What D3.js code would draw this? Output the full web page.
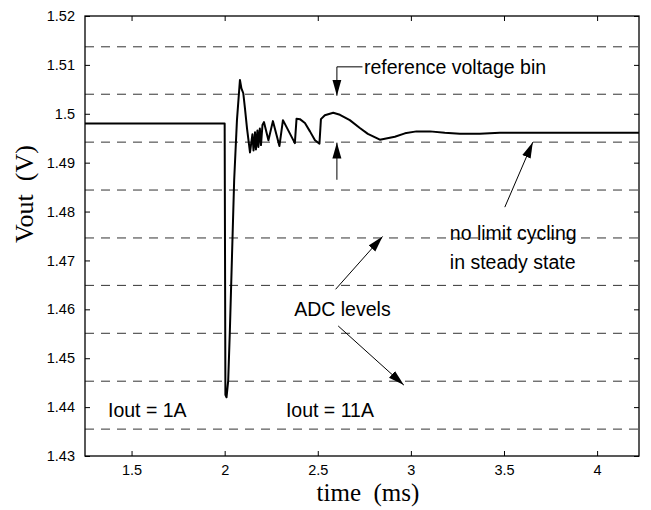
<!DOCTYPE html>
<html>
<head>
<meta charset="utf-8">
<script src="https://cdn.jsdelivr.net/npm/d3@7"></script>
<style>
  body { margin: 0; background: #fff; }
  svg { display: block; }
  .tick text { font-family: "Liberation Sans", Arial, sans-serif; font-size: 14.5px; fill: #000; }
</style>
</head>
<body>
<div id="plot-container"></div>
<script>
// output voltage transient (time in ms, volts)
const timeMs = [1.25, 2.000, 2.004, 2.010, 2.019, 2.028, 2.051, 2.066, 2.082, 2.090, 2.100, 2.109, 2.120, 2.136,
    2.149, 2.155, 2.163, 2.168, 2.176, 2.181, 2.189, 2.195, 2.203, 2.211, 2.235, 2.259, 2.294, 2.313,
    2.377, 2.386, 2.404, 2.431, 2.458, 2.485, 2.509, 2.517, 2.538, 2.583, 2.619, 2.672, 2.726, 2.769,
    2.8335, 2.914, 2.968, 3.030, 3.102, 3.182, 3.263, 3.370, 3.478, 4.225];
const vout = [1.498, 1.498, 1.4425, 1.442, 1.4454, 1.4557, 1.4864, 1.4987, 1.5069, 1.5052, 1.5042, 1.5011, 1.4970, 1.4921,
    1.4958, 1.4925, 1.4962, 1.4927, 1.4966, 1.4932, 1.4970, 1.4936, 1.4977, 1.4983, 1.4946, 1.4985, 1.4934, 1.4987,
    1.4940, 1.4990, 1.4989, 1.4981, 1.4964, 1.4946, 1.4939, 1.4989, 1.4997, 1.5002, 1.4998, 1.4987, 1.4971, 1.4959,
    1.4947, 1.4953, 1.4960, 1.4964, 1.4964, 1.4961, 1.4959, 1.4959, 1.4961, 1.4961];

// ADC quantisation levels
const adcLevels = [1.5137, 1.5040, 1.4942, 1.4844, 1.4746, 1.4649, 1.4551, 1.4453, 1.4355];

const xTicks = [1.5, 2, 2.5, 3, 3.5, 4];
const yTicks = [1.43, 1.44, 1.45, 1.46, 1.47, 1.48, 1.49, 1.5, 1.51, 1.52];
const yTickLabels = ["1.43", "1.44", "1.45", "1.46", "1.47", "1.48", "1.49", "1.5", "1.51", "1.52"];

// annotations in data coordinates
const labels = [
    { text: "reference voltage bin", t: 2.748, v: 1.5096 },
    { text: "no limit cycling", t: 3.209, v: 1.4756 },
    { text: "in steady state", t: 3.209, v: 1.4697 },
    { text: "ADC levels", t: 2.3735, v: 1.4601 },
    { text: "Iout = 1A", t: 1.3735, v: 1.4394 },
    { text: "Iout = 11A", t: 2.329, v: 1.4394 }
];
const arrows = [
    [[2.740, 1.5096], [2.6027, 1.5096], [2.6027, 1.5037]],
    [[2.6027, 1.4865], [2.6027, 1.4941]],
    [[3.5044, 1.4809], [3.6547, 1.4942]],
    [[2.5957, 1.4641], [2.848, 1.4749]],
    [[2.6096, 1.4566], [2.9623, 1.4445]]
];

const margin = { top: 16, right: 12, bottom: 54, left: 85 };
const width = 651 - margin.left - margin.right;
const height = 510 - margin.top - margin.bottom;

const svg = d3.select("#plot-container")
    .append("svg")
    .attr("width", 651)
    .attr("height", 510)
    .append("g")
    .attr("transform", "translate(" + margin.left + "," + margin.top + ")");

const x = d3.scaleLinear().domain([1.25, 4.225]).range([0, width]);
const y = d3.scaleLinear().domain([1.43, 1.52]).range([height, 0]);

// dashed ADC levels
svg.selectAll("line.adc")
    .data(adcLevels)
    .enter()
    .append("line")
    .attr("class", "adc")
    .attr("x1", 0)
    .attr("x2", width)
    .attr("y1", d => y(d))
    .attr("y2", d => y(d))
    .attr("stroke", "#333")
    .attr("stroke-width", 1)
    .attr("stroke-dasharray", "9,7");

// axes with inward ticks on all four sides
const fmtY = d => yTickLabels[yTicks.indexOf(d)];
svg.append("g")
    .attr("transform", "translate(0," + height + ")")
    .call(d3.axisBottom(x).tickValues(xTicks).tickSize(-5).tickPadding(9).tickFormat(d3.format("")));
svg.append("g")
    .call(d3.axisLeft(y).tickValues(yTicks).tickSize(-5).tickPadding(10).tickFormat(fmtY));
svg.append("g")
    .call(d3.axisTop(x).tickValues(xTicks).tickSize(-5).tickFormat(""));
svg.append("g")
    .attr("transform", "translate(" + width + ",0)")
    .call(d3.axisRight(y).tickValues(yTicks).tickSize(-5).tickFormat(""));
svg.selectAll(".domain").remove();
svg.selectAll(".tick line").attr("stroke", "#000").attr("stroke-width", 1);

svg.append("rect")
    .attr("width", width)
    .attr("height", height)
    .attr("fill", "none")
    .attr("stroke", "#000")
    .attr("stroke-width", 1.3);

// signal
const line = d3.line()
    .x((d, i) => x(timeMs[i]))
    .y(d => y(d));

svg.append("path")
    .datum(vout)
    .attr("fill", "none")
    .attr("stroke", "#000")
    .attr("stroke-width", 2)
    .attr("stroke-linejoin", "round")
    .attr("d", line);

// arrows
svg.append("defs").append("marker")
    .attr("id", "head")
    .attr("viewBox", "0 0 16 10")
    .attr("refX", 16)
    .attr("refY", 5)
    .attr("markerWidth", 16)
    .attr("markerHeight", 10)
    .attr("markerUnits", "userSpaceOnUse")
    .attr("orient", "auto")
    .append("path")
    .attr("d", "M0,0.5L16,5L0,9.5Z")
    .attr("fill", "#000");

svg.selectAll("path.arrow")
    .data(arrows)
    .enter()
    .append("path")
    .attr("class", "arrow")
    .attr("fill", "none")
    .attr("stroke", "#000")
    .attr("stroke-width", 1)
    .attr("marker-end", "url(#head)")
    .attr("d", d3.line().x(d => x(d[0])).y(d => y(d[1])));

svg.selectAll("text.note")
    .data(labels)
    .enter()
    .append("text")
    .attr("class", "note")
    .attr("x", d => x(d.t))
    .attr("y", d => y(d.v))
    .attr("dy", "0.35em")
    .style("font-family", "'Liberation Sans', Arial, sans-serif")
    .style("font-size", "19.5px")
    .text(d => d.text);

// axis titles
svg.append("text")
    .attr("text-anchor", "middle")
    .attr("x", 368 - margin.left)
    .attr("y", 501 - margin.top)
    .style("font-family", "'Liberation Serif', 'Times New Roman', serif")
    .style("font-size", "25px")
    .style("white-space", "pre")
    .text("time  (ms)");

svg.append("text")
    .attr("text-anchor", "middle")
    .attr("transform", "translate(" + (33 - margin.left) + "," + (194 - margin.top) + ") rotate(-90)")
    .style("font-family", "'Liberation Serif', 'Times New Roman', serif")
    .style("font-size", "26px")
    .style("white-space", "pre")
    .text("Vout  (V)");
</script>
</body>
</html>
